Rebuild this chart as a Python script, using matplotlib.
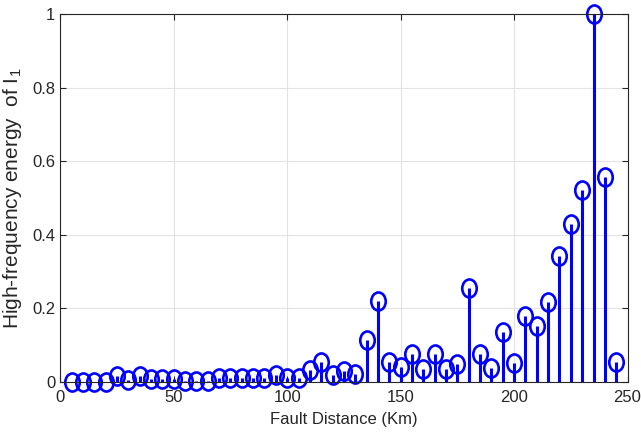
import matplotlib
matplotlib.use("Agg")
import matplotlib.pyplot as plt
from matplotlib.path import Path
from matplotlib.transforms import Affine2D
import numpy as np

# distance de défaut (km) et énergie haute fréquence normalisée
distance = np.arange(5, 250, 5)
energie = [0.000, 0.000, 0.000, 0.000, 0.015, 0.006, 0.016, 0.007, 0.009, 0.009,
           0.002, 0.002, 0.002, 0.012, 0.012, 0.012, 0.012, 0.012, 0.019, 0.012,
           0.012, 0.032, 0.053, 0.020, 0.029, 0.021, 0.114, 0.219, 0.054, 0.041,
           0.075, 0.035, 0.077, 0.036, 0.050, 0.254, 0.077, 0.037, 0.136, 0.052,
           0.179, 0.152, 0.217, 0.343, 0.430, 0.522, 1.000, 0.556, 0.053]

xticks = [0, 50, 100, 150, 200, 250]
yticks = [0, 0.2, 0.4, 0.6, 0.8, 1]

plt.rcParams['font.family'] = ['Liberation Sans', 'DejaVu Sans']

fig = plt.figure(figsize=(6.41, 4.40), dpi=100)
ax = fig.add_axes([0.094, 0.132, 0.885, 0.836])

# marqueur ovale (cercles un peu etires en hauteur)
ovale = Path.unit_circle().transformed(Affine2D().scale(0.8, 1.0))

markerline, stemlines, baseline = ax.stem(distance, energie, basefmt=' ')
plt.setp(stemlines, color='#0000ff', linewidth=2.2)
plt.setp(markerline, marker=ovale, markersize=13, markerfacecolor='none',
         markeredgecolor='#0000ff', markeredgewidth=1.9)
markerline.set_clip_on(False)

ax.set_xlim(0, 250)
ax.set_ylim(0, 1)
ax.set_xticks(xticks)
ax.set_yticks(yticks)
ax.set_yticklabels(['0', '0.2', '0.4', '0.6', '0.8', '1'])
ax.grid(True, color='#e3e3e3', linewidth=0.8)
ax.set_axisbelow(True)
ax.tick_params(direction='in', top=True, right=True, labelsize=12, length=4,
               color='#262626', labelcolor='#262626')
ax.tick_params(axis='x', pad=6)
for s in ax.spines.values():
    s.set_color('#262626')
    s.set_linewidth(0.8)

ax.set_xlabel('Fault Distance (Km)', fontsize=12, color='#262626', labelpad=5)
ax.set_ylabel(r'High-frequency energy  of I$_{\mathregular{1}}$', fontsize=15,
              color='#262626', labelpad=6)

fig.savefig('out.png', dpi=100)
